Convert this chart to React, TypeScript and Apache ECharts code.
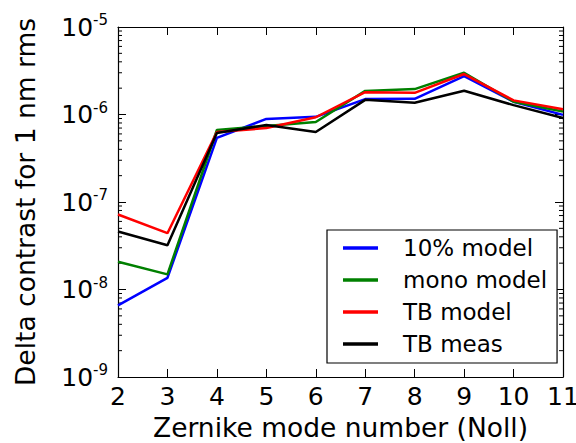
import React, { useEffect, useRef } from "react";
import * as echarts from "echarts";

const modes = [2, 3, 4, 5, 6, 7, 8, 9, 10, 11];
const model10 = [6.6e-9, 1.36e-8, 5.4e-7, 8.9e-7, 9.4e-7, 1.5e-6, 1.51e-6, 2.75e-6, 1.4e-6, 9.9e-7];
const monoModel = [2.08e-8, 1.49e-8, 6.65e-7, 7.4e-7, 8.2e-7, 1.86e-6, 1.95e-6, 3.0e-6, 1.4e-6, 1.08e-6];
const tbModel = [7.2e-8, 4.4e-8, 6.3e-7, 7.0e-7, 9.3e-7, 1.8e-6, 1.77e-6, 2.9e-6, 1.45e-6, 1.15e-6];
const tbMeas = [4.6e-8, 3.2e-8, 6.15e-7, 7.6e-7, 6.3e-7, 1.47e-6, 1.36e-6, 1.87e-6, 1.28e-6, 9.1e-7];
const seriesNames = ["10% model", "mono model", "TB model", "TB meas"];
const seriesColors = ["#0000ff", "#008000", "#ff0000", "#000000"];

const minorTicks: number[] = [];
for (let e = -9; e < -5; e++) {
  for (let m = 2; m <= 9; m++) minorTicks.push(m * Math.pow(10, e));
}

const FONT = "DejaVu Sans";

export default function App() {
  const ref = useRef<HTMLDivElement>(null);
  useEffect(() => {
    const chart = echarts.init(ref.current!, null, { renderer: "svg" });
    const all = [model10, monoModel, tbModel, tbMeas];
    const lineSeries = all.map((vals, i) => ({
      name: seriesNames[i],
      type: "line",
      data: modes.map((m, j) => [m, vals[j]]),
      symbol: "none",
      lineStyle: { color: seriesColors[i], width: 2.5 },
      itemStyle: { color: seriesColors[i] },
      z: 3 + i,
    }));
    const supLabel = (v: number) => {
      const e = Math.round(Math.log10(v));
      return `{b|10}{s|${e}}`;
    };
    chart.setOption({
      animation: false,
      grid: { left: 118, right: 13, top: 27, bottom: 66, containLabel: false, outerBoundsMode: "none" },
      legend: {
        orient: "vertical",
        left: 327,
        top: 230,
        padding: [6, 10, 7, 16],
        itemWidth: 35,
        itemHeight: 3.5,
        itemGap: 8,
        icon: "rect",
        borderColor: "#000",
        borderWidth: 1.2,
        borderRadius: 0,
        backgroundColor: "#fff",
        data: seriesNames,
        textStyle: {
          fontFamily: FONT,
          fontSize: 23,
          color: "#000",
          lineHeight: 24,
          padding: [0, 0, 0, 20],
        },
      },
      xAxis: [
        {
          type: "value",
          min: 2,
          max: 11,
          interval: 1,
          name: "Zernike mode number (Noll)",
          nameLocation: "middle",
          nameGap: 37,
          nameTextStyle: { fontFamily: FONT, fontSize: 26.5, color: "#000" },
          axisLine: { show: true, lineStyle: { color: "#000", width: 1.2 } },
          axisTick: { show: true, inside: true, length: 8, lineStyle: { color: "#000" } },
          axisLabel: { fontFamily: FONT, fontSize: 25, color: "#000", margin: 7 },
          splitLine: { show: false },
        },
        {
          type: "value",
          position: "top",
          min: 2,
          max: 11,
          interval: 1,
          axisLine: { show: true, lineStyle: { color: "#000", width: 1.2 } },
          axisTick: { show: true, inside: true, length: 8, lineStyle: { color: "#000" } },
          axisLabel: { show: false },
          splitLine: { show: false },
        },
      ],
      yAxis: [
        {
          type: "log",
          logBase: 10,
          min: 1e-9,
          max: 1e-5,
          name: "Delta contrast for 1 nm rms",
          nameLocation: "middle",
          nameGap: 79,
          nameTextStyle: { fontFamily: FONT, fontSize: 26.5, color: "#000" },
          axisLine: { show: true, lineStyle: { color: "#000", width: 1.2 } },
          axisTick: { show: true, inside: true, length: 8, lineStyle: { color: "#000" } },
          axisLabel: {
            formatter: supLabel,
            margin: 10,
            rich: {
              b: { fontFamily: FONT, fontSize: 25, color: "#000" },
              s: { fontFamily: FONT, fontSize: 15, color: "#000", verticalAlign: "top", padding: [0, 0, 14, 0] },
            },
          },
          splitLine: { show: false },
        },
        {
          type: "log",
          logBase: 10,
          min: 1e-9,
          max: 1e-5,
          position: "right",
          axisLine: { show: true, lineStyle: { color: "#000", width: 1.2 } },
          axisTick: { show: true, inside: true, length: 8, lineStyle: { color: "#000" } },
          axisLabel: { show: false },
          splitLine: { show: false },
        },
      ],
      series: [
        ...lineSeries,
        {
          type: "custom",
          silent: true,
          z: 1,
          data: minorTicks.map((v) => [2, v]),
          renderItem: (params: any, api: any) => {
            const v = api.value(1);
            const pl = api.coord([2, v]);
            const pr = api.coord([11, v]);
            const style = { stroke: "#000", lineWidth: 1 };
            return {
              type: "group",
              children: [
                { type: "line", shape: { x1: pl[0], y1: pl[1], x2: pl[0] + 4, y2: pl[1] }, style },
                { type: "line", shape: { x1: pr[0], y1: pr[1], x2: pr[0] - 4, y2: pr[1] }, style },
              ],
            };
          },
        },
      ],
    });
    return () => chart.dispose();
  }, []);
  return <div ref={ref} style={{ width: 576, height: 443, position: "absolute", left: 0, top: 0 }} />;
}
